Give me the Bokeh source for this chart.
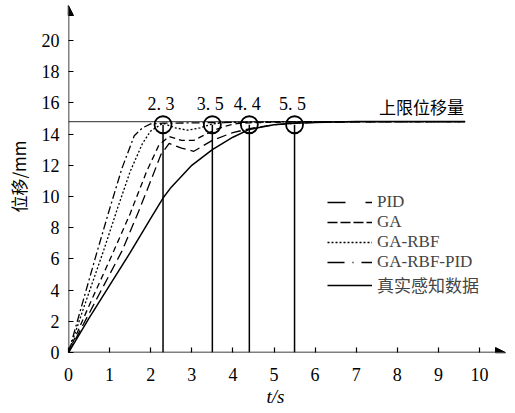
from bokeh.plotting import figure
from bokeh.models import (Range1d, FixedTicker, Legend, LegendItem, Arrow, NormalHead, Title)
from bokeh.core.properties import value
from bokeh.embed import file_html
from bokeh.resources import INLINE

# ---------------- data ----------------
t_pid = [0, 0.5, 1.3, 1.7, 2.0, 2.25, 2.45, 2.75, 3.05, 3.5, 4.0, 4.5, 5.0, 5.5, 6, 7, 8, 9, 9.65]
v_pid = [0, 2.5, 6.5, 9.0, 11.0, 12.7, 13.4, 13.1, 12.9, 13.6, 14.1, 14.4, 14.6, 14.7, 14.75, 14.78, 14.8, 14.8, 14.8]

t_ga = [0, 0.5, 1.1, 1.5, 1.9, 2.2, 2.45, 2.75, 3.05, 3.5, 3.8, 4.1, 4.4, 5, 6, 7, 8, 9, 9.65]
v_ga = [0, 3.0, 6.5, 8.9, 11.6, 13.3, 13.85, 13.6, 13.6, 14.2, 14.5, 14.68, 14.72, 14.76, 14.78, 14.8, 14.8, 14.8, 14.8]

t_garbf = [0, 0.4, 0.85, 1.2, 1.5, 1.8, 2.0, 2.3, 2.6, 2.9, 3.2, 3.5, 3.8, 4.5, 5, 6, 7, 8, 9, 9.65]
v_garbf = [0, 3.1, 6.5, 9.3, 11.6, 13.4, 14.2, 14.7, 14.4, 14.25, 14.4, 14.65, 14.75, 14.78, 14.8, 14.8, 14.8, 14.8, 14.8, 14.8]

t_garbfpid = [0, 0.3, 0.7, 1.0, 1.3, 1.6, 1.8, 2.0, 2.3, 2.6, 3, 4, 5, 6, 7, 8, 9, 9.65]
v_garbfpid = [0, 2.8, 6.5, 9.2, 11.8, 13.9, 14.4, 14.65, 14.7, 14.7, 14.72, 14.75, 14.78, 14.8, 14.8, 14.8, 14.8, 14.8]

t_real = [0, 0.5, 1, 1.5, 2, 2.3, 2.5, 3, 3.5, 4, 4.4, 5, 5.5, 6, 7, 8, 9, 9.65]
v_real = [0, 2.2, 4.3, 6.4, 8.6, 9.9, 10.6, 12.0, 13.0, 13.8, 14.3, 14.6, 14.7, 14.75, 14.8, 14.8, 14.8, 14.8]

settle_times = [2.3, 3.5, 4.4, 5.5]
settle_labels = ["2. 3", "3. 5", "4. 4", "5. 5"]
settle_level = 14.6

limit_value = 14.8
limit_end = 9.65
limit_label = "上限位移量"

x_ticks = list(range(0, 11))
y_ticks = list(range(0, 21, 2))

series_names = ["PID", "GA", "GA-RBF", "GA-RBF-PID", "真实感知数据"]

# ---------------- figure ----------------
FONT = "Liberation Serif, Noto Sans CJK SC"
px_x = 41.1
px_y = 15.6
p = figure(width=515, height=413, output_backend="svg", toolbar_location=None,
           x_range=Range1d(0, 447 / px_x), y_range=Range1d(0, 352 / px_y),
           min_border_left=68, min_border_right=0, min_border_top=0, min_border_bottom=61)
p.outline_line_color = None
p.xgrid.visible = False
p.ygrid.visible = False
p.background_fill_color = "white"
p.border_fill_color = "white"

for ax in (p.xaxis[0], p.yaxis[0]):
    ax.axis_line_alpha = 0
    ax.major_tick_in = 5
    ax.major_tick_out = 0
    ax.minor_tick_line_color = None
    ax.major_tick_line_color = "black"
    ax.major_tick_line_width = 1.2
    ax.major_label_text_font = FONT
    ax.major_label_text_font_size = "18px"
    ax.major_label_text_color = "black"
    ax.axis_label_text_font_style = "normal"
    ax.axis_label_text_color = "black"

p.xaxis.ticker = FixedTicker(ticks=x_ticks)
p.yaxis.ticker = FixedTicker(ticks=y_ticks)
p.xaxis.major_label_standoff = 15
p.yaxis.major_label_standoff = 9
p.yaxis.axis_label = "位移/mm"
p.yaxis.axis_label_text_font = "Noto Sans CJK SC"
p.yaxis.axis_label_text_font_size = "17px"
p.yaxis.axis_label_standoff = 8

# x axis title, placed below the tick labels
p.add_layout(Title(text="t/s", align="left", offset=198, text_font=FONT,
                   text_font_style="italic", text_font_size="19px",
                   text_color="black", standoff=0), "below")

# axes with arrows
p.add_layout(Arrow(end=NormalHead(size=10, fill_color="black", line_color="black"),
                   x_start=0, y_start=0, x_end=0, y_end=(352 - 5) / px_y,
                   line_color="black", line_width=1.5))
p.add_layout(Arrow(end=NormalHead(size=10, fill_color="black", line_color="black"),
                   x_start=0, y_start=0, x_end=(505 - 68) / px_x, y_end=0,
                   line_color="black", line_width=1.5))

# upper limit line
p.line([0, limit_end], [limit_value, limit_value], line_color="#555555", line_width=1.2)
p.text(x=[limit_end - 0.03], y=[limit_value + 1.0], text=[limit_label],
       text_font=value("Noto Sans CJK SC"), text_font_size="17px",
       text_align="right", text_baseline="middle", text_color="black")

# series
p.line(t_pid, v_pid, line_color="black", line_width=1.3, line_dash="10 5")
p.line(t_ga, v_ga, line_color="black", line_width=1.3, line_dash="6 4")
p.line(t_garbf, v_garbf, line_color="black", line_width=1.3, line_dash="2 2")
p.line(t_garbfpid, v_garbfpid, line_color="black", line_width=1.3, line_dash="8 3 2 3")
p.line(t_real, v_real, line_color="black", line_width=1.5)

# legend samples: renderers holding no drawable point, styled as the legend's keys
nan = float("nan")
leg_dashes = ["18 20", "10 3", "2 2", "17 8 1 8", "solid"]
leg_renderers = [p.line([nan], [nan], line_color="black", line_width=1.4, line_dash=d)
                 for d in leg_dashes]

# settle markers
p.segment(x0=settle_times, y0=[0] * len(settle_times), x1=settle_times,
          y1=[settle_level] * len(settle_times), line_color="black", line_width=1.5)
p.scatter(x=settle_times, y=[settle_level] * len(settle_times), size=17,
          marker="circle", fill_color=None, line_color="black", line_width=1.8)
p.text(x=settle_times, y=[15.9] * len(settle_times), text=settle_labels,
       text_font=value(FONT), text_font_size="18px", text_align="center",
       text_baseline="middle", text_color="black", x_offset=-2)

legend = Legend(items=[LegendItem(label=n, renderers=[r]) for n, r in
                       zip(series_names, leg_renderers)],
                location=(259, 55), glyph_width=45, glyph_height=18, label_height=18,
                spacing=0, padding=0, margin=0, label_standoff=5,
                background_fill_alpha=0, border_line_alpha=0,
                label_text_font=FONT, label_text_font_size="17px")
p.add_layout(legend)

open("out.html", "w").write(file_html(p, INLINE))
